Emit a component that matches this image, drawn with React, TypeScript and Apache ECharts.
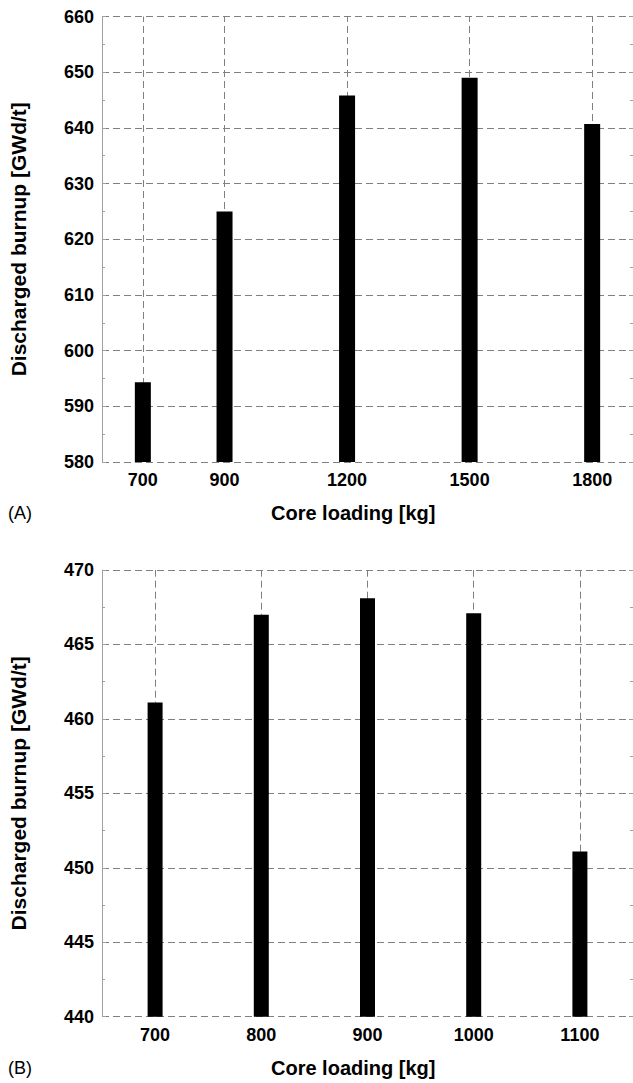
import React, { useEffect, useRef } from "react";
import * as echarts from "echarts";

const topLoadings = [700, 900, 1200, 1500, 1800];
const topBurnup = [594.3, 625.0, 645.8, 649.0, 640.7];
const topYTicks = { min: 580, max: 660, interval: 10 };
const topXRange = { min: 600, max: 1900 };

const botLoadings = [700, 800, 900, 1000, 1100];
const botBurnup = [461.1, 467.0, 468.1, 467.1, 451.1];
const botYTicks = { min: 440, max: 470, interval: 5 };
const botXRange = { min: 650, max: 1150 };

const FONT = "'Liberation Sans', Arial, Helvetica, sans-serif";
const GRID_COLOR = "#808080";
const AXIS_COLOR = "#a0a0a0";

function makeY(gridIndex: number, t: { min: number; max: number; interval: number }, right: boolean) {
  return {
    type: "value",
    gridIndex,
    position: right ? "right" : "left",
    min: t.min,
    max: t.max,
    interval: t.interval,
    name: right ? "" : "Discharged burnup [GWd/t]",
    nameLocation: "middle",
    nameGap: 73,
    nameTextStyle: { fontFamily: FONT, fontWeight: "bold", fontSize: 21, color: "#000" },
    axisLine: { show: true, lineStyle: { color: AXIS_COLOR, width: 1 } },
    axisTick: { show: true, inside: true, length: 4, lineStyle: { color: AXIS_COLOR } },
    minorTick: { show: true, splitNumber: 2, length: 3, lineStyle: { color: AXIS_COLOR } },
    axisLabel: {
      show: !right,
      margin: 8,
      fontFamily: FONT,
      fontWeight: "bold",
      fontSize: 18,
      color: "#000",
      formatter: (v: number) => String(v),
    },
    splitLine: right
      ? { show: false }
      : { show: true, lineStyle: { color: GRID_COLOR, type: [7, 4], width: 1 } },
  };
}

function makeX(gridIndex: number, r: { min: number; max: number }, ticks: number[]) {
  return {
    type: "value",
    gridIndex,
    min: r.min,
    max: r.max,
    axisLine: { show: false },
    axisTick: { show: false },
    splitLine: { show: false },
    axisLabel: {
      customValues: ticks,
      margin: 9,
      fontFamily: FONT,
      fontWeight: "bold",
      fontSize: 18,
      color: "#000",
      formatter: (v: number) => String(v),
    },
  };
}

function makeBar(idx: number, xs: number[], ys: number[], width: number) {
  return {
    type: "bar",
    xAxisIndex: idx,
    yAxisIndex: idx * 2,
    data: xs.map((x, i) => [x, ys[i]]),
    barWidth: width,
    itemStyle: { color: "#000" },
    z: 3,
    markLine: {
      silent: true,
      symbol: "none",
      z: 1,
      label: { show: false },
      lineStyle: { color: GRID_COLOR, type: [7, 4], width: 1 },
      data: xs.map((x) => ({ xAxis: x })),
    },
  };
}

export default function App() {
  const ref = useRef<HTMLDivElement>(null);
  useEffect(() => {
    document.body.style.margin = "0";
    if (!ref.current) return;
    const chart = echarts.init(ref.current, null, { renderer: "svg" });
    chart.setOption({
      animation: false,
      backgroundColor: "#fff",
      grid: [
        { left: 101, top: 16.5, width: 535, height: 445.5 },
        { left: 101, top: 570, width: 537, height: 446.7 },
      ],
      xAxis: [makeX(0, topXRange, topLoadings), makeX(1, botXRange, botLoadings)],
      yAxis: [
        makeY(0, topYTicks, false),
        makeY(0, topYTicks, true),
        makeY(1, botYTicks, false),
        makeY(1, botYTicks, true),
      ],
      series: [makeBar(0, topLoadings, topBurnup, 16), makeBar(1, botLoadings, botBurnup, 15)],
      graphic: [
        {
          type: "text",
          left: 271,
          top: 503,
          style: { text: "Core loading [kg]", fontFamily: FONT, fontWeight: "bold", fontSize: 20, fill: "#000" },
        },
        {
          type: "text",
          left: 8,
          top: 504,
          style: { text: "(A)", fontFamily: FONT, fontSize: 18, fill: "#000" },
        },
        {
          type: "text",
          left: 271,
          top: 1058,
          style: { text: "Core loading [kg]", fontFamily: FONT, fontWeight: "bold", fontSize: 20, fill: "#000" },
        },
        {
          type: "text",
          left: 8,
          top: 1059,
          style: { text: "(B)", fontFamily: FONT, fontSize: 18, fill: "#000" },
        },
      ],
    });
    return () => chart.dispose();
  }, []);
  return <div ref={ref} style={{ width: 633, height: 1083 }} />;
}
